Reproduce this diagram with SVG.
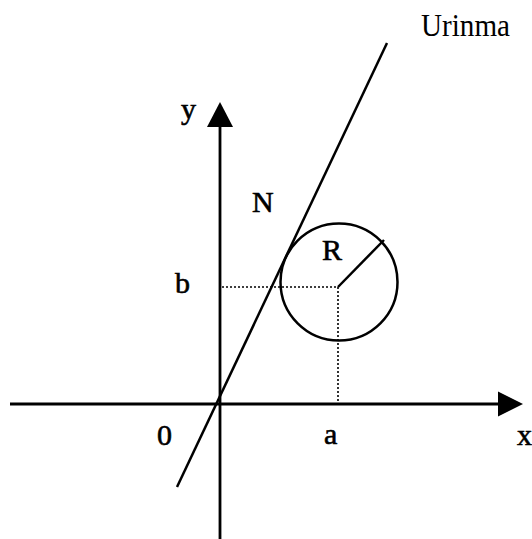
<svg xmlns="http://www.w3.org/2000/svg" width="532" height="539" viewBox="0 0 532 539">
<style>
.ax{stroke:#000;stroke-width:2.8;fill:none}
.ln{stroke:#000;stroke-width:2.5;fill:none}
.dot{stroke:#000;stroke-width:1.6;stroke-dasharray:2 2;fill:none}
.t{font-family:"Liberation Serif","Times New Roman",serif;fill:#000;font-size:30px}
.lb{stroke:#000;stroke-width:0.6}
.title{font-size:32px}
</style>
<rect width="532" height="539" fill="#fff"/>
<g id="axes">
<line class="ax" x1="10" y1="404" x2="500" y2="404"/>
<polygon points="498,391.5 523,404 498,416.5" fill="#000"/>
<line class="ax" x1="220" y1="539" x2="220" y2="125"/>
<polygon points="207,127 220,102 233,127" fill="#000"/>
</g>
<g id="circle">
<circle class="ln" cx="339" cy="282" r="58.5"/>
<line class="ln" x1="338" y1="287" x2="384" y2="240"/>
</g>
<g id="connectors">
<line class="ln" x1="177" y1="487" x2="387" y2="43"/>
<line class="dot" x1="222" y1="287" x2="338" y2="287"/>
<line class="dot" x1="338" y1="287" x2="338" y2="404"/>
</g>
<g id="labels">
<text class="t title" x="421" y="36" textLength="89" lengthAdjust="spacingAndGlyphs">Urinma</text>
<text class="t lb" x="181" y="118.5">y</text>
<text class="t lb" x="252" y="212">N</text>
<text class="t lb" x="322" y="260">R</text>
<text class="t lb" x="175" y="293">b</text>
<text class="t lb" x="157" y="445">0</text>
<text class="t lb" x="324" y="444">a</text>
<text class="t lb" x="517" y="445">x</text>
</g>
</svg>
